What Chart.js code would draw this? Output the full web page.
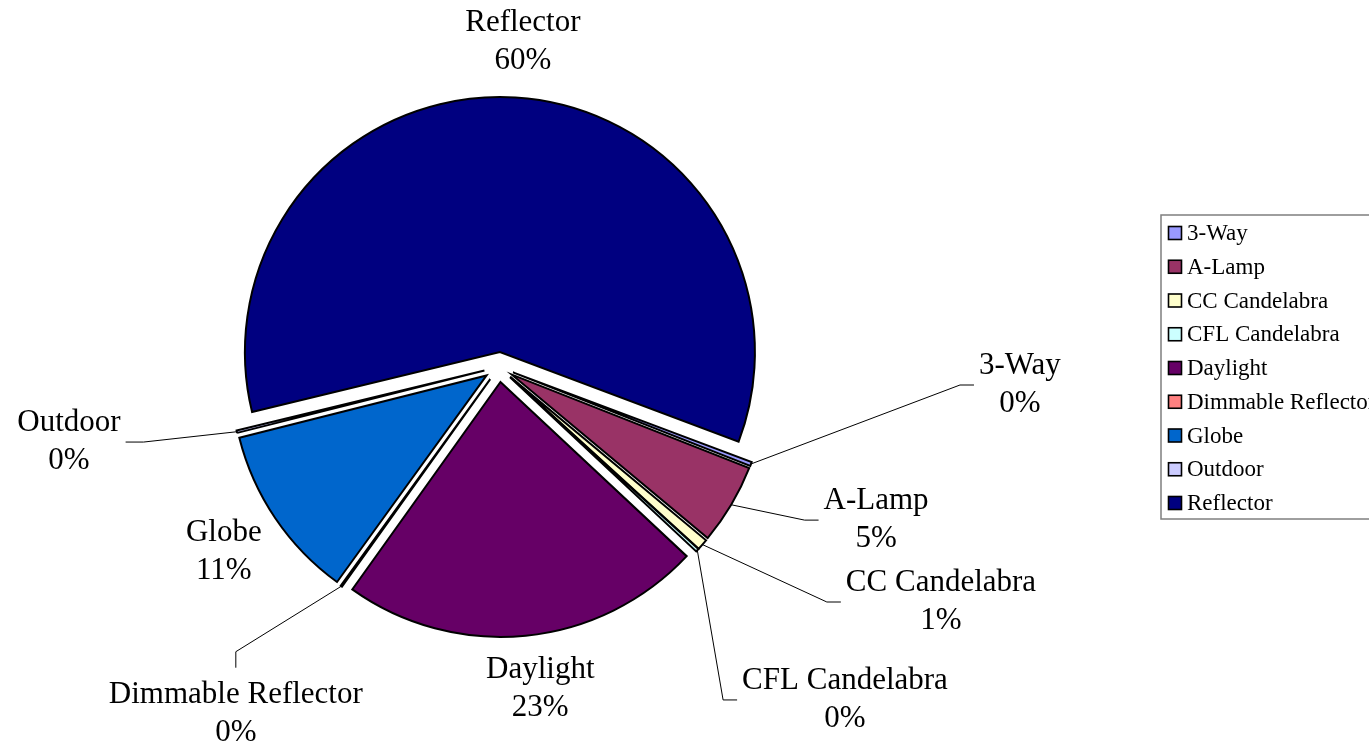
<!DOCTYPE html>
<html>
<head>
<meta charset="utf-8">
<script src="https://cdn.jsdelivr.net/npm/chart.js@4.4.1/dist/chart.umd.min.js"></script>
<style>
html,body{margin:0;padding:0;background:#ffffff;}
#wrap{width:1369px;height:748px;position:relative;}
</style>
</head>
<body>
<div id="wrap"><canvas id="c"></canvas></div>
<script>
// ---- data ----
const categories = ['3-Way','A-Lamp','CC Candelabra','CFL Candelabra','Daylight','Dimmable Reflector','Globe','Outdoor','Reflector'];
const shares = [0.25, 5.1, 0.7, 0.2, 22.9, 0.1, 11.1, 0.15, 59.5];

// ---- styles ----
const sliceColors = ['#9999FF','#993366','#FFFFCC','#CCFFFF','#660066','#FF8080','#0066CC','#CCCCFF','#000080'];
const FONT = "'Liberation Serif', 'Times New Roman', serif";

// label placement: angle (deg clockwise from 12 o'clock) and distance in pie radii; leader side
const labelPlacement = [
  {a: 91.98, f: 2.044, leader: 'left'},
  {a: 112.1, f: 1.596, leader: 'left'},
  {a: 118.0, f: 1.963, leader: 'left'},
  {a: 133.9, f: 1.883, leader: 'left'},
  {a: 172.7, f: 1.273, leader: null},
  {a: 217.2, f: 1.707, leader: 'top'},
  {a: 236.1, f: 1.300, leader: null},
  {a: 260.1, f: 1.712, leader: 'right'},
  {a: 4.2,   f: 1.278, leader: null}
];

const explodePlugin = {
  id: 'explode',
  beforeDatasetsDraw(chart, args, opts) {
    const meta = chart.getDatasetMeta(0);
    const ca = chart.chartArea;
    const cx = (ca.left + ca.right) / 2, cy = (ca.top + ca.bottom) / 2;
    meta.data.forEach(arc => {
      const mid = (arc.startAngle + arc.endAngle) / 2;
      arc.x = cx + Math.cos(mid) * opts.distance;
      arc.y = cy + Math.sin(mid) * opts.distance;
    });
  }
};

const labelPlugin = {
  id: 'pieLabels',
  afterDatasetsDraw(chart, args, opts) {
    const ctx = chart.ctx;
    const meta = chart.getDatasetMeta(0);
    const ca = chart.chartArea;
    const cx = (ca.left + ca.right) / 2, cy = (ca.top + ca.bottom) / 2;
    const data = chart.data.datasets[0].data;
    const total = data.reduce((s, v) => s + v, 0);
    ctx.save();
    ctx.font = opts.fontSize + 'px ' + FONT;
    ctx.fillStyle = '#000';
    ctx.textAlign = 'center';
    ctx.textBaseline = 'middle';
    const half = opts.lineGap / 2;
    meta.data.forEach((arc, i) => {
      const p = labelPlacement[i];
      const R = arc.outerRadius;
      const ang = p.a * Math.PI / 180;
      const bx = cx + Math.sin(ang) * p.f * R;
      const by = cy - Math.cos(ang) * p.f * R;
      const name = chart.data.labels[i];
      const pct = Math.round(data[i] / total * 100 + 1e-9) + '%';
      ctx.fillText(name, bx, by - half);
      ctx.fillText(pct, bx, by + half);
      if (p.leader) {
        const w = Math.max(ctx.measureText(name).width, ctx.measureText(pct).width) / 2;
        const mid = (arc.startAngle + arc.endAngle) / 2;
        const sx = arc.x + Math.cos(mid) * R, sy = arc.y + Math.sin(mid) * R;
        let ex, ey, kx, ky;
        if (p.leader === 'left') { ex = bx - w - 5; ey = by; kx = ex - 14; ky = ey; }
        else if (p.leader === 'right') { ex = bx + w + 5; ey = by; kx = ex + 18; ky = ey; }
        else { ex = bx; ey = by - half - 27; kx = ex; ky = ey - 16; }
        ctx.beginPath();
        ctx.moveTo(sx, sy);
        ctx.lineTo(kx, ky);
        ctx.lineTo(ex, ey);
        ctx.strokeStyle = '#000';
        ctx.lineWidth = 1;
        ctx.stroke();
      }
    });
    ctx.restore();
  }
};

const boxLegendPlugin = {
  id: 'boxLegend',
  afterDraw(chart, args, opts) {
    const ctx = chart.ctx;
    const ds = chart.data.datasets[0];
    ctx.save();
    ctx.strokeStyle = '#7f7f7f';
    ctx.lineWidth = 1.5;
    ctx.strokeRect(opts.left, opts.top, opts.width, opts.height);
    ctx.font = opts.fontSize + 'px ' + FONT;
    ctx.textAlign = 'left';
    ctx.textBaseline = 'middle';
    chart.data.labels.forEach((lab, i) => {
      const y = opts.top + opts.firstOffset + i * opts.itemGap;
      ctx.fillStyle = ds.backgroundColor[i];
      ctx.fillRect(opts.left + 7.5, y - 6.5, 13, 13);
      ctx.strokeStyle = '#000';
      ctx.lineWidth = 1.6;
      ctx.strokeRect(opts.left + 7.5, y - 6.5, 13, 13);
      ctx.fillStyle = '#000';
      ctx.fillText(lab, opts.left + 26, y + 1);
    });
    ctx.restore();
  }
};

new Chart(document.getElementById('c'), {
  type: 'pie',
  data: {
    labels: categories,
    datasets: [{
      data: shares,
      backgroundColor: sliceColors,
      borderColor: '#000000',
      borderWidth: 2,
      borderJoinStyle: 'miter',
      rotation: 110.6,
      radius: 255
    }]
  },
  options: {
    responsive: true,
    maintainAspectRatio: false,
    animation: false,
    events: [],
    rotation: 110.6,
    radius: 255,
    layout: { padding: { left: 0, right: 371, top: 0, bottom: 14 } },
    plugins: {
      legend: { display: false },
      tooltip: { enabled: false },
      title: { display: false },
      explode: { distance: 15 },
      pieLabels: { fontSize: 31, lineGap: 38 },
      boxLegend: { left: 1161, top: 215, width: 220, height: 304, firstOffset: 18, itemGap: 33.75, fontSize: 23 }
    }
  },
  plugins: [explodePlugin, labelPlugin, boxLegendPlugin]
});
</script>
</body>
</html>
